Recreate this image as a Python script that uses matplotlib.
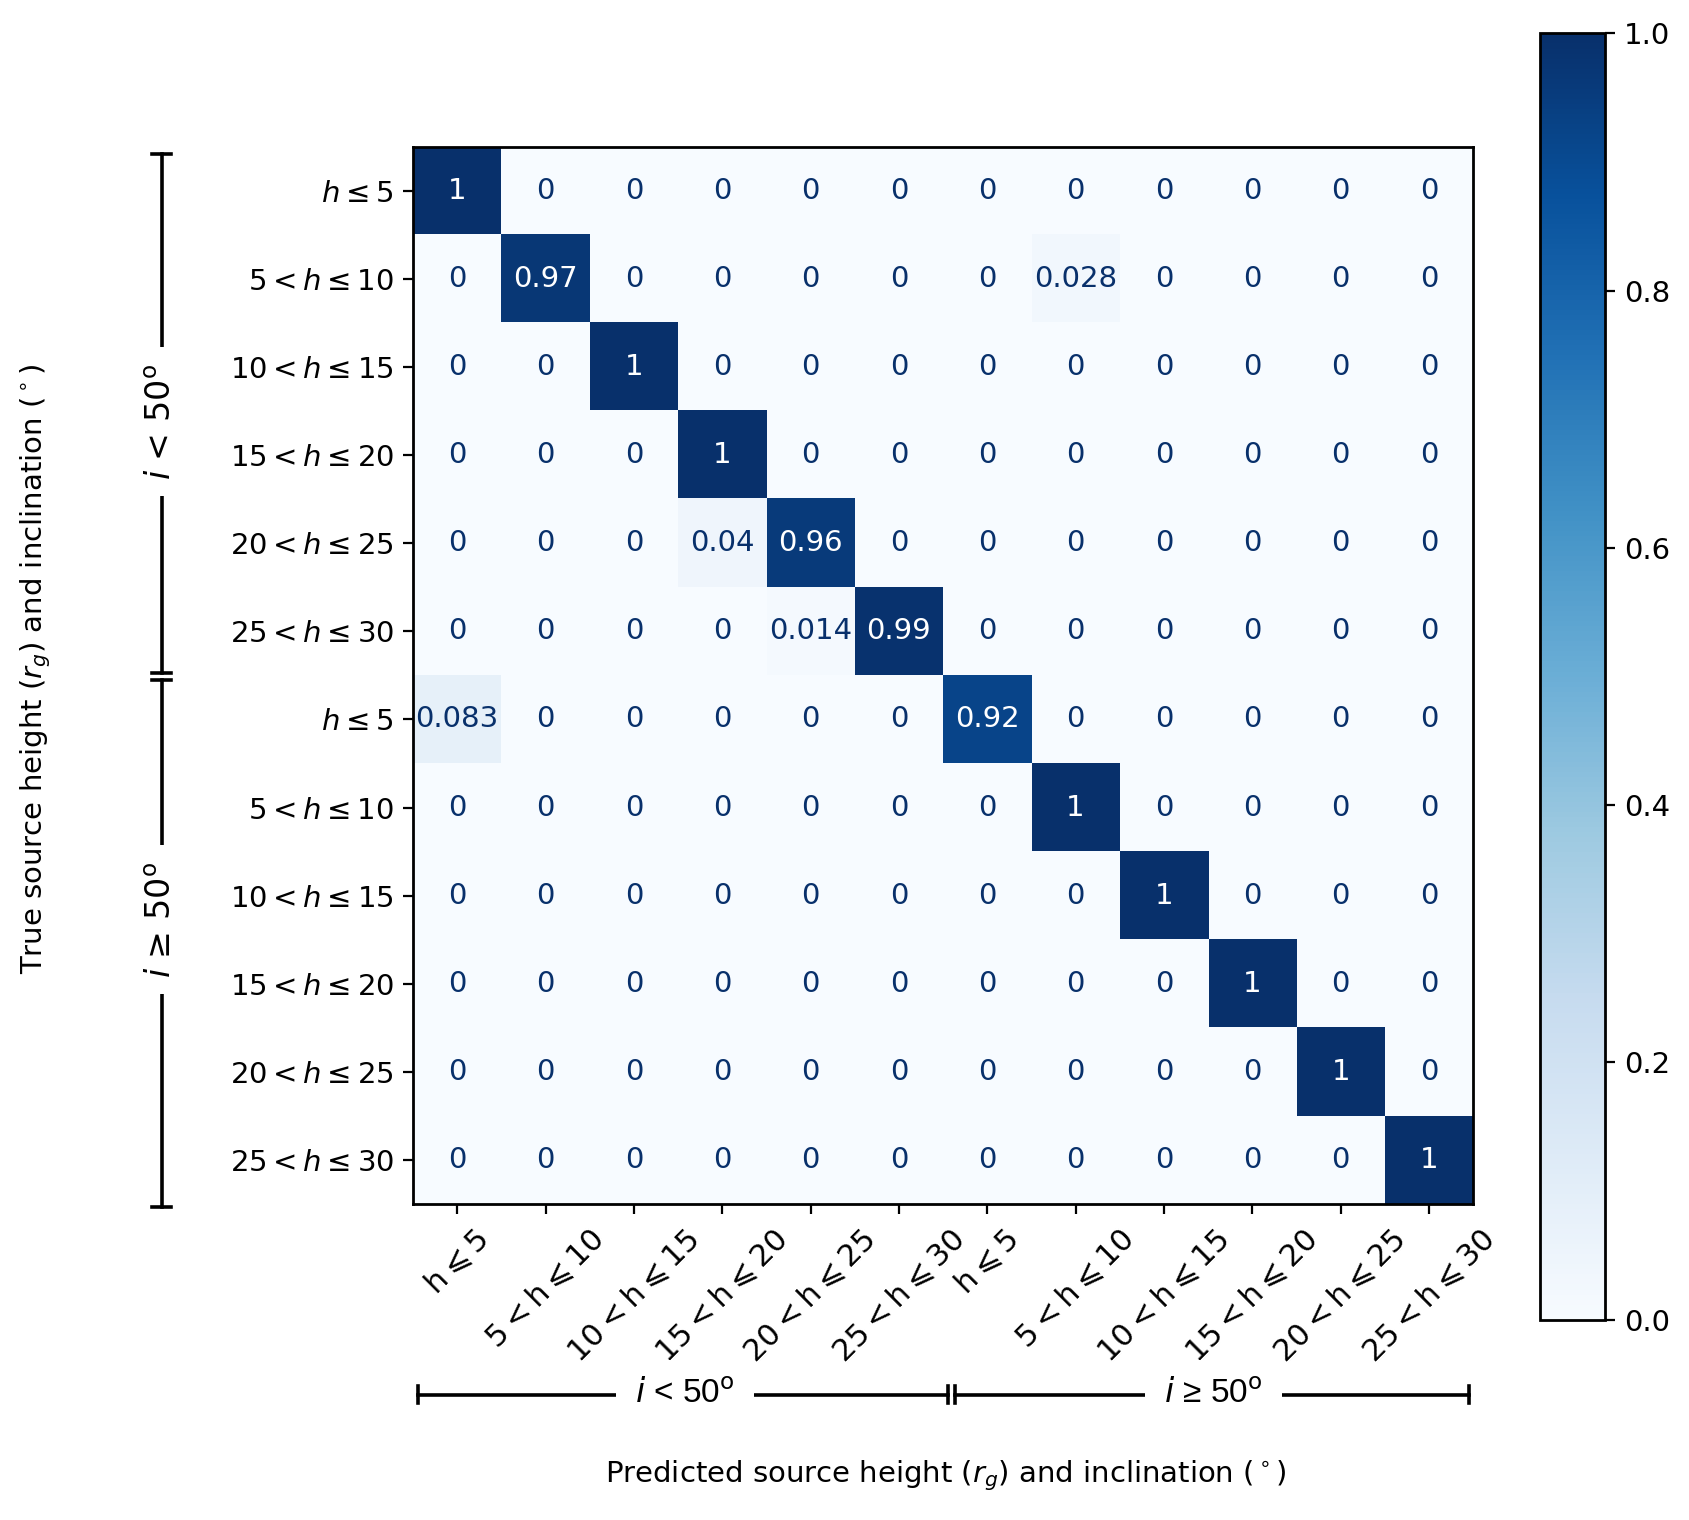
import numpy as np
import matplotlib
matplotlib.use("Agg")
import matplotlib.pyplot as plt
import matplotlib.transforms as mtransforms

# classes: 6 height bins x 2 inclination groups
y_labels = [r"$h \leq 5$", r"$5 < h \leq 10$", r"$10 < h \leq 15$",
            r"$15 < h \leq 20$", r"$20 < h \leq 25$", r"$25 < h \leq 30$"] * 2
x_labels = ["h\u2009⩽\u20095", "5\u2009<\u2009h\u2009⩽\u200910",
            "10\u2009<\u2009h\u2009⩽\u200915", "15\u2009<\u2009h\u2009⩽\u200920",
            "20\u2009<\u2009h\u2009⩽\u200925", "25\u2009<\u2009h\u2009⩽\u200930"] * 2
group_labels_y = [r"$i$ < 50$^\mathrm{o}$", r"$i$ ≥ 50$^\mathrm{o}$"]
group_labels_x = [r"$i$ < 50$^\mathrm{o}$", r"$i$ ≥ 50$^\mathrm{o}$"]

# normalised confusion matrix (rows = true, cols = predicted), off-diagonal non-zeros
diag = [1, 0.97, 1, 1, 0.96, 0.99, 0.92, 1, 1, 1, 1, 1]
off_diag = [(1, 7, 0.028), (4, 3, 0.04), (5, 4, 0.014), (6, 0, 0.083)]

cm = np.diag(np.array(diag, dtype=float))
for r, c, v in off_diag:
    cm[r, c] = v
n = cm.shape[0]

fig = plt.figure(figsize=(8.45, 7.6), dpi=200)
ax = fig.add_axes([0.2444, 0.2077, 0.6273, 0.6959])
cax = fig.add_axes([0.9113, 0.1318, 0.0383, 0.8462])

cmap = plt.get_cmap("Blues")
im = ax.imshow(cm, cmap=cmap, vmin=0, vmax=1, interpolation="nearest", aspect="auto")

dark = cmap(1.0)
for i in range(n):
    for j in range(n):
        v = cm[i, j]
        color = "white" if v > 0.5 else dark
        ax.text(j, i, format(v, ".2g"), ha="center", va="center",
                color=color, fontsize=10.5)

ax.set_xticks(range(n))
ax.set_yticks(range(n))
ax.set_yticklabels(y_labels, fontsize=10.5)
ax.set_xticklabels(x_labels, fontsize=11, rotation=45, ha="center",
                   family=["DejaVu Sans"])
for s in ax.spines.values():
    s.set_linewidth(1.0)

cb = fig.colorbar(im, cax=cax)
cb.set_ticks([0, 0.2, 0.4, 0.6, 0.8, 1.0])
cb.ax.set_yticklabels(["0.0", "0.2", "0.4", "0.6", "0.8", "1.0"], fontsize=10.5)
cb.outline.set_linewidth(1.0)

# group brackets
lw = 1.3
ty = mtransforms.blended_transform_factory(ax.transAxes, ax.transData)
bx = -0.237
cap = 0.009
y_ends = [(-0.41, 5.47), (5.55, 11.53)]
for (y0, y1), lab, yc in zip(y_ends, group_labels_y, [2.62, 8.27]):
    ax.plot([bx, bx], [y0, y1], color="black", lw=lw, transform=ty, clip_on=False)
    for yy in (y0, y1):
        ax.plot([bx - cap, bx + cap], [yy, yy], color="black", lw=lw,
                transform=ty, clip_on=False)
    ax.text(bx, yc, lab, rotation=90, ha="center", va="center", fontsize=12,
            transform=ty, bbox=dict(facecolor="white", edgecolor="none", pad=6))

tx = mtransforms.blended_transform_factory(ax.transData, ax.transAxes)
by = -0.180
capx = 0.008
x_ends = [(-0.44, 5.56), (5.64, 11.45)]
for (x0, x1), lab, xc in zip(x_ends, group_labels_x, [2.58, 8.56]):
    ax.plot([x0, x1], [by, by], color="black", lw=lw, transform=tx, clip_on=False)
    for xx in (x0, x1):
        ax.plot([xx, xx], [by - capx, by + capx], color="black", lw=lw,
                transform=tx, clip_on=False)
    ax.text(xc, by, lab, ha="center", va="center", fontsize=12,
            family="Liberation Sans", transform=tx,
            bbox=dict(facecolor="white", edgecolor="none", pad=7))

ax.set_xlim(-0.5, n - 0.5)
ax.set_ylim(n - 0.5, -0.5)

fig.text(0.021, 0.56,
         r"True source height ($r_g$) and inclination ($^\circ$)",
         rotation=90, ha="center", va="center", fontsize=10.5)
fig.text(0.5597, 0.029,
         r"Predicted source height ($r_g$) and inclination ($^\circ$)",
         ha="center", va="center", fontsize=10.5)

fig.savefig("out.png", dpi=200)
